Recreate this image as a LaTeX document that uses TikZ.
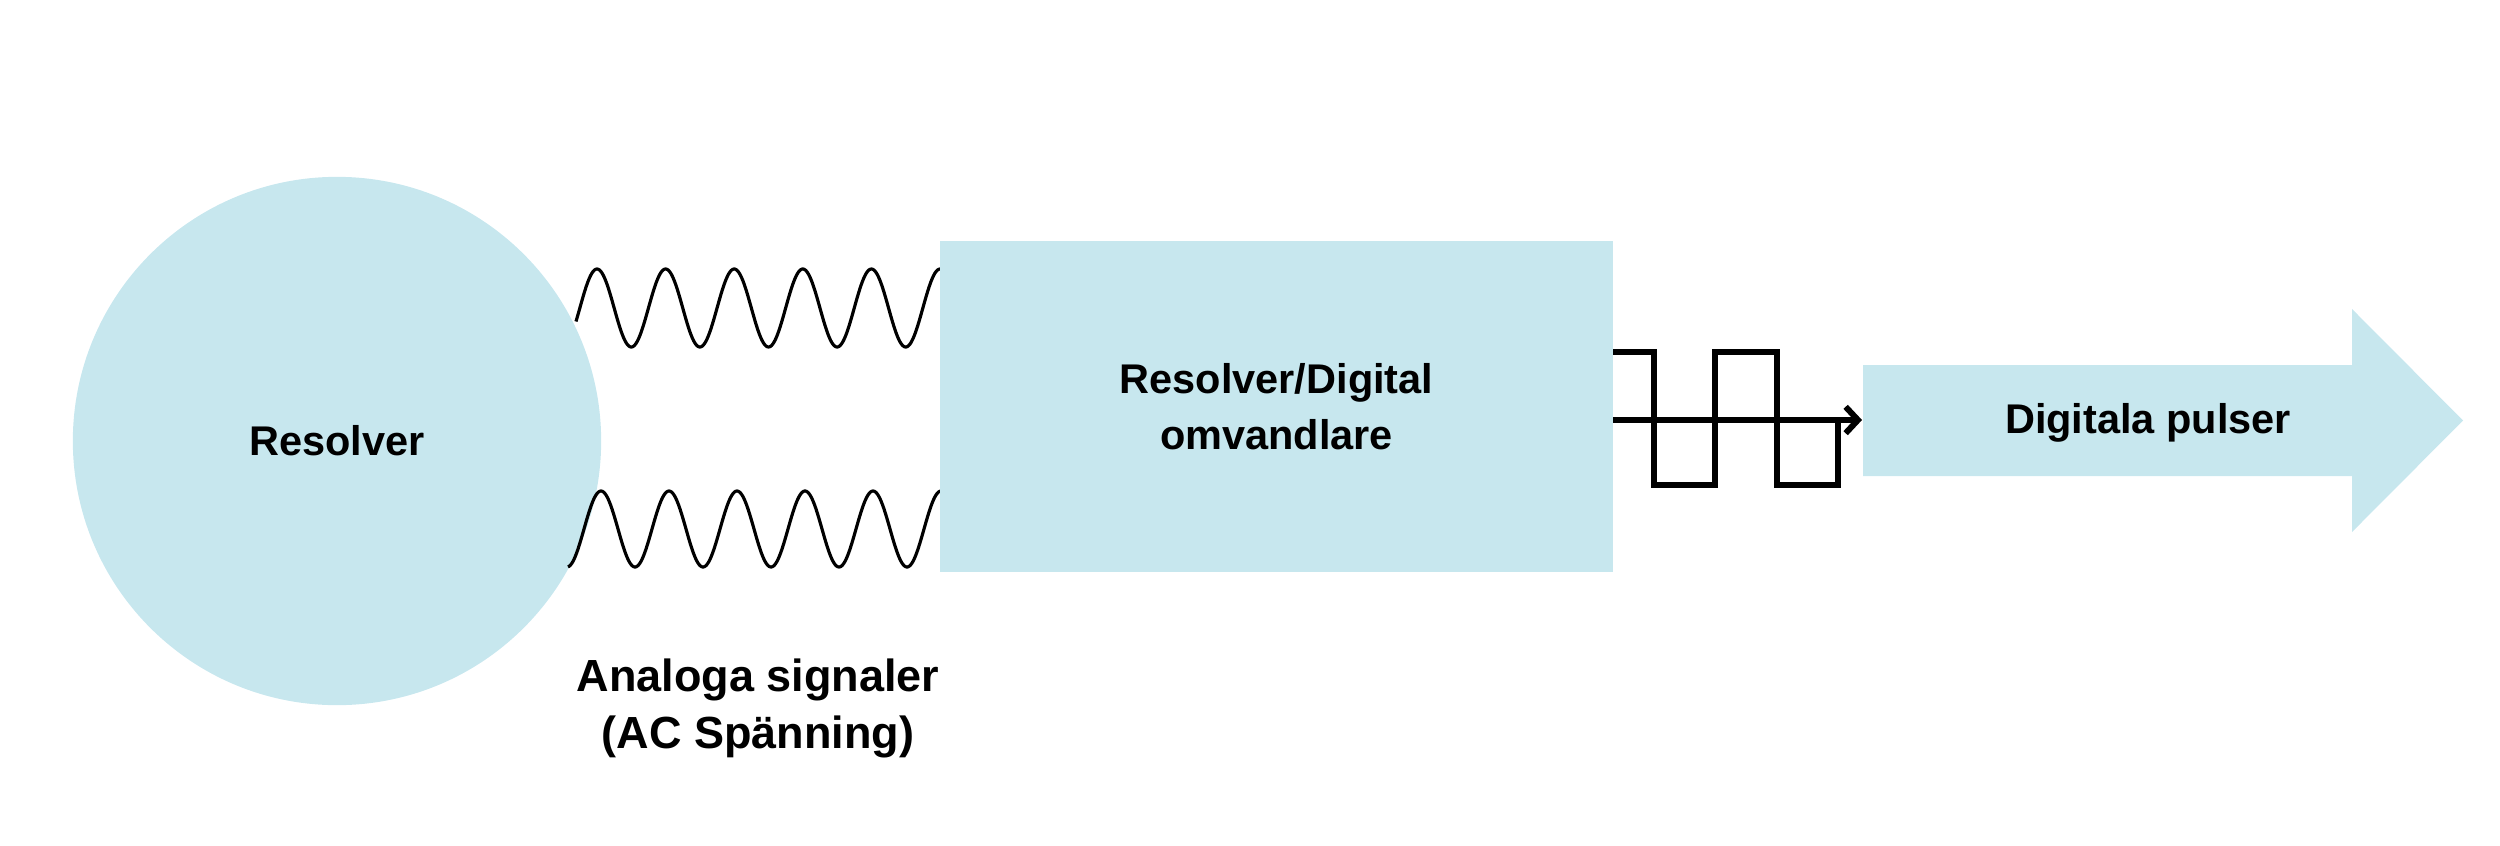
\documentclass[tikz,border=0pt]{standalone}
\usepackage{fontspec}
\setmainfont{Liberation Sans}
\usetikzlibrary{arrows.meta}
\definecolor{paleblue}{RGB}{199,231,238}
\begin{document}
\begin{tikzpicture}[x=0.01cm,y=-0.01cm,
  blob/.style={fill=paleblue, draw=none},
  lbl/.style={font=\bfseries\fontsize{11.8}{16}\selectfont, text=black, align=center},
  wave/.style={line width=0.9pt, black},
  pulse/.style={line width=1.7pt, black, line join=miter, line cap=butt}]
\useasboundingbox (0,0) rectangle (2500,845);
% resolver
\node[blob, circle, minimum size=5.28cm, inner sep=0pt, lbl] (resolver) at (337,441) {Resolver};
% analog signals
\draw[wave] plot[domain=576:940, samples=400, smooth] (\x, {308-39*cos(((\x-940)/68.6)*360)});
\draw[wave] plot[domain=568:941, samples=400, smooth] (\x, {529-38*cos(((\x-941)/68)*360)});
% converter
\node[blob, minimum width=6.72cm, minimum height=3.31cm, inner sep=0pt, lbl] (rdc) at (1276.5,406.5) {Resolver/Digital\\omvandlare};
% output arrow
\fill[paleblue] (1863,365) -- (2352,365) -- (2352,309) -- (2463,420.5) -- (2352,532) -- (2352,476) -- (1863,476) -- cycle;
\node[lbl] (pulser) at (2148,423) {Digitala pulser};
\coordinate (pulsein) at (1862,420);
% digital pulses
\draw[pulse] (rdc.east |- 0,352) -- (1654,352) -- (1654,485) -- (1715,485) -- (1715,352) -- (1777,352) -- (1777,485) -- (1838,485) -- (1838,420);
\draw[pulse, -{Straight Barb[length=3.5pt, width=7.5pt]}] (rdc.east |- pulsein) -- (pulsein);
% label
\node[lbl, font=\bfseries\fontsize{12.8}{16.2}\selectfont] (analog) at (758,708) {Analoga signaler\\(AC Spänning)};
\end{tikzpicture}
\end{document}
